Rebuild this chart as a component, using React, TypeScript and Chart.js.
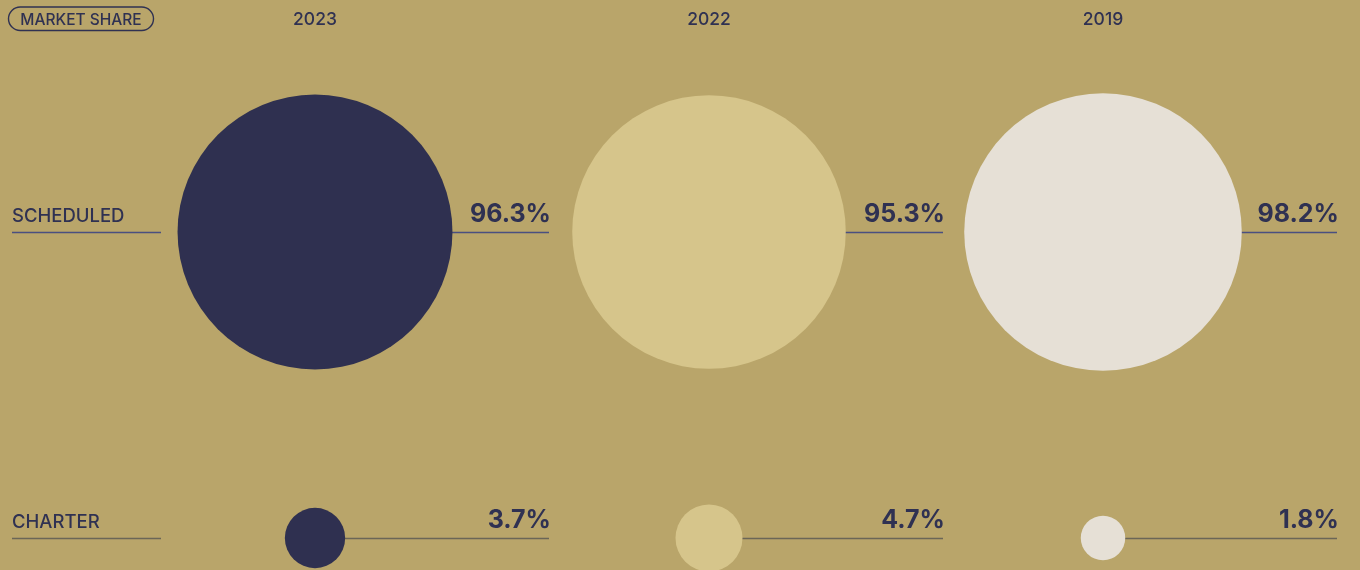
import React, { useEffect, useRef } from "react";
import { Chart, registerables } from "chart.js";

Chart.register(...registerables);

const years = ["2023", "2022", "2019"];
const segments = ["SCHEDULED", "CHARTER"];
const scheduledShare = [96.3, 95.3, 98.2];
const charterShare = [3.7, 4.7, 1.8];
const yearColors = ["#2f3050", "#d6c58b", "#e6e0d6"];
const rowLineColors = ["#4a4f80", "#6b6657"];

const BG = "#b9a56a";
const INK = "#2f3152";
const FONT = "Inter, 'Noto Sans', sans-serif";

const radiusFor = (v: number) => 4 + 13.6 * Math.sqrt(v);

export default function App() {
  const ref = useRef<HTMLCanvasElement | null>(null);

  useEffect(() => {
    const canvas = ref.current;
    if (!canvas) return;

    const rowValue = (row: number) => (row === 0 ? 1 : 0);
    const shares = [scheduledShare, charterShare];

    const decor = {
      id: "decor",
      beforeDatasetsDraw(chart: any) {
        const ctx = chart.ctx;
        const xs = chart.scales.x;
        const ys = chart.scales.y;
        ctx.save();
        segments.forEach((seg, r) => {
          const y = ys.getPixelForValue(rowValue(r));
          ctx.strokeStyle = rowLineColors[r];
          ctx.lineWidth = 1.3;
          ctx.beginPath();
          ctx.moveTo(12, y + 0.5);
          ctx.lineTo(161, y + 0.5);
          ctx.stroke();
          ctx.fillStyle = INK;
          ctx.font = `500 18.5px ${FONT}`;
          ctx.textAlign = "left";
          ctx.textBaseline = "alphabetic";
          ctx.fillText(seg, 12, y - 10);
          years.forEach((_, i) => {
            const cx = xs.getPixelForValue(i);
            ctx.strokeStyle = rowLineColors[r];
            ctx.lineWidth = 1.3;
            ctx.beginPath();
            ctx.moveTo(cx, y + 0.5);
            ctx.lineTo(cx + 234, y + 0.5);
            ctx.stroke();
          });
        });
        years.forEach((yr, i) => {
          const cx = xs.getPixelForValue(i);
          ctx.fillStyle = INK;
          ctx.font = `500 17.5px ${FONT}`;
          ctx.textAlign = "center";
          ctx.textBaseline = "alphabetic";
          ctx.fillText(yr, cx, 25);
        });
        ctx.font = `500 15.5px ${FONT}`;
        ctx.textAlign = "center";
        const label = "MARKET SHARE";
        const w = 145;
        ctx.strokeStyle = INK;
        ctx.lineWidth = 1.4;
        ctx.beginPath();
        (ctx as any).roundRect(8.5, 7, w, 23.5, 12);
        ctx.stroke();
        ctx.fillStyle = INK;
        ctx.fillText(label, 8.5 + w / 2, 24.5);
        ctx.restore();
      },
      afterDatasetsDraw(chart: any) {
        const ctx = chart.ctx;
        const xs = chart.scales.x;
        const ys = chart.scales.y;
        ctx.save();
        ctx.fillStyle = INK;
        ctx.font = `700 25px ${FONT}`;
        ctx.textAlign = "right";
        ctx.textBaseline = "alphabetic";
        segments.forEach((_, r) => {
          const y = ys.getPixelForValue(rowValue(r));
          years.forEach((__, i) => {
            const cx = xs.getPixelForValue(i);
            ctx.fillText(`${shares[r][i].toFixed(1)}%`, cx + 236, y - 10);
          });
        });
        ctx.restore();
      },
    };

    const chart = new Chart(canvas, {
      type: "bubble",
      data: {
        datasets: years.map((yr, i) => ({
          label: yr,
          data: [
            { x: i, y: 1, r: radiusFor(scheduledShare[i]) },
            { x: i, y: 0, r: radiusFor(charterShare[i]) },
          ],
          backgroundColor: yearColors[i],
          borderWidth: 0,
          clip: false as any,
        })),
      },
      options: {
        responsive: false,
        devicePixelRatio: 1,
        animation: false,
        layout: {
          autoPadding: false,
          padding: { left: 315, right: 257, top: 232, bottom: 32 },
        },
        plugins: { legend: { display: false }, tooltip: { enabled: false } },
        scales: {
          x: { type: "linear", min: 0, max: 2, display: false },
          y: { type: "linear", min: 0, max: 1, display: false },
        },
      } as any,
      plugins: [decor],
    });

    return () => chart.destroy();
  }, []);

  return (
    <div
      style={{
        position: "fixed",
        left: 0,
        top: 0,
        width: 1360,
        height: 570,
        background: BG,
        overflow: "hidden",
      }}
    >
      <canvas ref={ref} width={1360} height={570} />
    </div>
  );
}
